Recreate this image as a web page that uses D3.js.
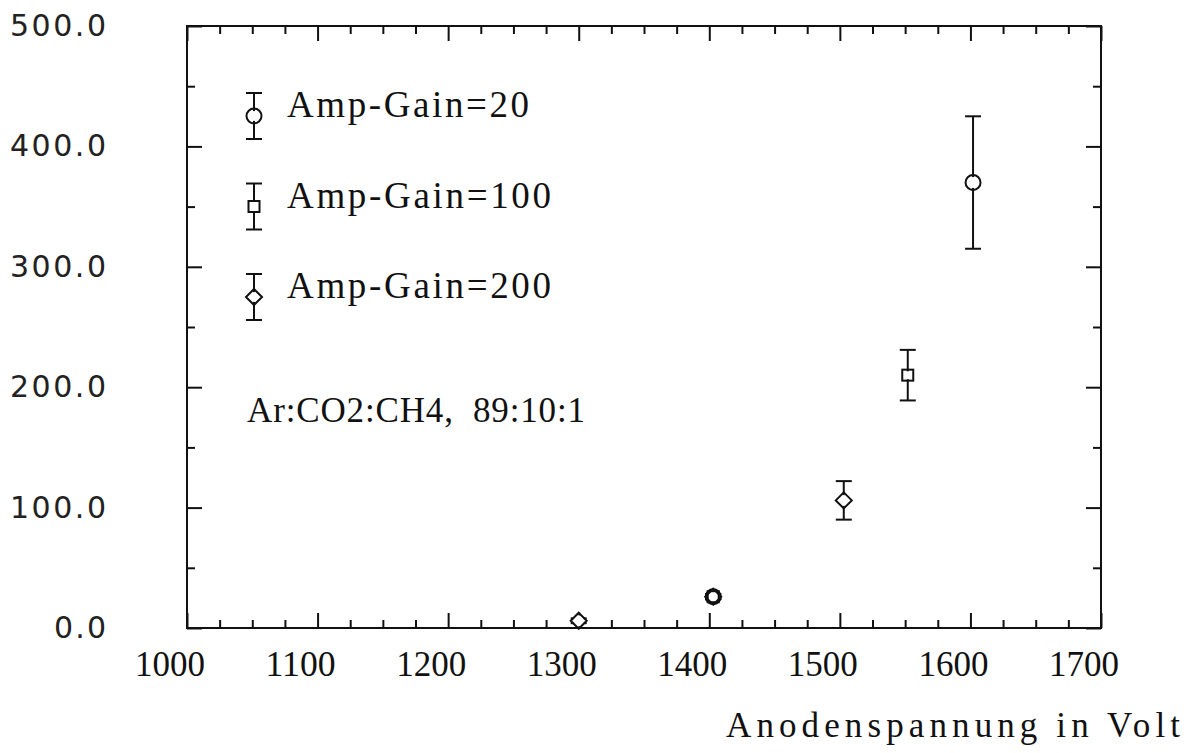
<!DOCTYPE html>
<html>
<head>
<meta charset="utf-8">
<script src="https://cdn.jsdelivr.net/npm/d3@7"></script>
<style>
  html, body { margin: 0; padding: 0; background: #fff; }
  svg { display: block; }
</style>
</head>
<body>
<svg id="chart" width="1193" height="753"></svg>
<script>
// data (anode voltage in V, signal, error)
const voltsG20 = [1403, 1602];
const valsG20  = [26, 370];
const errsG20  = [2, 55];

const voltsG100 = [1403, 1552];
const valsG100  = [26, 210];
const errsG100  = [2, 21];

const voltsG200 = [1300, 1403, 1503];
const valsG200  = [6, 26, 106];
const errsG200  = [2, 2, 16];

const xTicks = [1000, 1100, 1200, 1300, 1400, 1500, 1600, 1700];
const yTicks = [0, 100, 200, 300, 400, 500];
const legendLabels = ['Amp-Gain=20', 'Amp-Gain=100', 'Amp-Gain=200'];
const legendShapes = ['circle', 'square', 'diamond'];
const gasText = 'Ar:CO2:CH4,  89:10:1';
const xTitle = 'Anodenspannung in Volt';

const SERIF = "'Liberation Serif', 'DejaVu Serif', serif";
const SANS = "'DejaVu Sans', 'Liberation Sans', sans-serif";

const svg = d3.select('#chart');
const L = 187, R = 1101, T = 26, B = 628;

const x = d3.scaleLinear().domain([1000, 1700]).range([L, R]);
const y = d3.scaleLinear().domain([0, 500]).range([B, T]);

const minorX = d3.range(1000, 1701, 25).filter(v => v % 100 !== 0);
const minorY = d3.range(0, 501, 50).filter(v => v % 100 !== 0);

// ticks on all four sides, pointing inward
function tickSet(axisFn, scale, vals, size, tr) {
  svg.append('g')
    .attr('transform', tr)
    .call(axisFn(scale).tickValues(vals).tickSize(size).tickFormat(''))
    .call(g => g.select('.domain').remove())
    .call(g => g.selectAll('line').attr('stroke', '#111').attr('stroke-width', 2));
}
tickSet(d3.axisBottom, x, xTicks, -15, `translate(0,${B})`);
tickSet(d3.axisBottom, x, minorX, -8, `translate(0,${B})`);
tickSet(d3.axisTop, x, xTicks, -15, `translate(0,${T})`);
tickSet(d3.axisTop, x, minorX, -8, `translate(0,${T})`);
tickSet(d3.axisLeft, y, yTicks, -15, `translate(${L},0)`);
tickSet(d3.axisLeft, y, minorY, -8, `translate(${L},0)`);
tickSet(d3.axisRight, y, yTicks, -15, `translate(${R},0)`);
tickSet(d3.axisRight, y, minorY, -8, `translate(${R},0)`);

// frame
svg.append('rect')
  .attr('x', L).attr('y', T).attr('width', R - L).attr('height', B - T)
  .attr('fill', 'none').attr('stroke', '#111').attr('stroke-width', 2);

// tick labels
svg.append('g').selectAll('text')
  .data(xTicks)
  .enter().append('text')
    .attr('x', d => x(d) - 17)
    .attr('y', 676)
    .attr('text-anchor', 'middle')
    .attr('font-family', SERIF)
    .attr('font-size', 36)
    .attr('textLength', 70)
    .attr('lengthAdjust', 'spacingAndGlyphs')
    .attr('fill', '#111')
    .text(d => d);

svg.append('g').selectAll('text')
  .data(yTicks)
  .enter().append('text')
    .attr('x', 106)
    .attr('y', d => y(d) + 10)
    .attr('text-anchor', 'end')
    .attr('font-family', SANS)
    .attr('font-size', 30)
    .attr('textLength', d => d === 0 ? 52 : 96)
    .attr('lengthAdjust', 'spacing')
    .attr('fill', '#222')
    .text(d => d3.format('.1f')(d));

// x title
svg.append('text')
  .attr('x', 726).attr('y', 737)
  .attr('font-family', SERIF)
  .attr('font-size', 35)
  .attr('textLength', 454)
  .attr('lengthAdjust', 'spacing')
  .attr('fill', '#111')
  .text(xTitle);

// symbols
function drawSymbol(g, shape, cx, cy) {
  const s = { stroke: '#111', sw: 2 };
  if (shape === 'circle') {
    g.append('circle').attr('cx', cx).attr('cy', cy).attr('r', 7.5)
      .attr('fill', 'none').attr('stroke', s.stroke).attr('stroke-width', s.sw);
  } else if (shape === 'square') {
    g.append('rect').attr('x', cx - 5.5).attr('y', cy - 5.5).attr('width', 11).attr('height', 11)
      .attr('fill', 'none').attr('stroke', s.stroke).attr('stroke-width', s.sw);
  } else {
    g.append('path').attr('d', `M${cx},${cy - 8}L${cx + 8},${cy}L${cx},${cy + 8}L${cx - 8},${cy}Z`)
      .attr('fill', 'none').attr('stroke', s.stroke).attr('stroke-width', s.sw);
  }
}
function drawErr(g, cx, y1, y2) {
  g.append('line').attr('x1', cx).attr('x2', cx).attr('y1', y1).attr('y2', y2)
    .attr('stroke', '#111').attr('stroke-width', 2);
  [y1, y2].forEach(yy => g.append('line')
    .attr('x1', cx - 8).attr('x2', cx + 8).attr('y1', yy).attr('y2', yy)
    .attr('stroke', '#111').attr('stroke-width', 2));
}

const series = [
  { shape: 'circle', xs: voltsG20, ys: valsG20, es: errsG20 },
  { shape: 'square', xs: voltsG100, ys: valsG100, es: errsG100 },
  { shape: 'diamond', xs: voltsG200, ys: valsG200, es: errsG200 }
];
const marks = svg.append('g');
series.forEach(s => {
  s.xs.forEach((v, i) => {
    drawErr(marks, x(v), y(s.ys[i] + s.es[i]), y(s.ys[i] - s.es[i]));
  });
});
// white fill under the symbols, then the outlines
series.forEach(s => {
  s.xs.forEach((v, i) => marks.append('circle')
    .attr('cx', x(v)).attr('cy', y(s.ys[i])).attr('r', s.shape === 'square' ? 4 : 5.5)
    .attr('fill', '#fff'));
});
series.forEach(s => {
  s.xs.forEach((v, i) => drawSymbol(marks, s.shape, x(v), y(s.ys[i])));
});

// legend
const leg = svg.append('g');
legendLabels.forEach((lab, i) => {
  const cy = 116 + i * 90.5;
  drawErr(leg, 254, cy - 23, cy + 23);
  leg.append('circle').attr('cx', 254).attr('cy', cy).attr('r', 5).attr('fill', '#fff');
  drawSymbol(leg, legendShapes[i], 254, cy);
  leg.append('text')
    .attr('x', 287).attr('y', cy + 1)
    .attr('font-family', SERIF)
    .attr('font-size', 37)
    .attr('textLength', lab.length * 22)
    .attr('lengthAdjust', 'spacing')
    .attr('fill', '#111')
    .text(lab);
});

svg.append('text')
  .attr('x', 247).attr('y', 422)
  .attr('font-family', SERIF)
  .attr('font-size', 35)
  .attr('textLength', 338)
  .attr('lengthAdjust', 'spacing')
  .attr('fill', '#111')
  .style('white-space', 'pre')
  .text(gasText);
</script>
</body>
</html>
